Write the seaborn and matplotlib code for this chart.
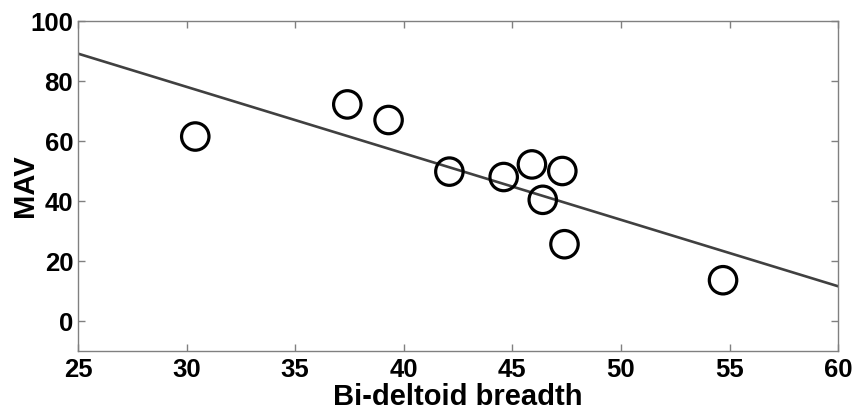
import matplotlib
matplotlib.use('Agg')
import matplotlib.pyplot as plt
import numpy as np
import pandas as pd
import seaborn as sns

# values
breadth = [30.4, 37.4, 39.3, 42.1, 44.6, 45.9, 47.3, 46.4, 47.4, 54.7]
mav = [61.5, 72.2, 67.0, 49.8, 48.0, 52.2, 50.0, 40.4, 25.6, 13.6]
x_ticks = [25, 30, 35, 40, 45, 50, 55, 60]
y_ticks = [0, 20, 40, 60, 80, 100]

sns.set_style('white')
plt.rcParams['font.family'] = ['Liberation Sans', 'DejaVu Sans']
plt.rcParams['font.weight'] = 'bold'
plt.rcParams['text.color'] = 'black'
plt.rcParams['axes.labelcolor'] = 'black'

df = pd.DataFrame({'breadth': breadth, 'mav': mav})

fig = plt.figure(figsize=(8.57, 4.12), dpi=100)
ax = fig.add_axes([0.091, 0.148, 0.887, 0.801])
ax.set_xlim(25, 60)
ax.set_ylim(-10, 100)

# regression line over the whole x range, markers drawn separately
sns.regplot(data=df, x='breadth', y='mav', ax=ax, ci=None, truncate=False,
            scatter=False, line_kws={'color': '#404040', 'linewidth': 1.9})
sns.scatterplot(data=df, x='breadth', y='mav', ax=ax, s=390, marker='o',
                facecolor='none', edgecolor='black', linewidth=2.3, zorder=3)

ax.set_xlim(25, 60)
ax.set_ylim(-10, 100)
ax.set_xticks(x_ticks)
ax.set_yticks(y_ticks)
ax.tick_params(direction='in', length=5, width=1, color='#808080',
               labelcolor='black', labelsize=18.5, top=True, right=True,
               bottom=True, left=True, labeltop=False, labelright=False)
ax.tick_params(axis='y', pad=3.5)
ax.tick_params(axis='x', pad=5)
for lab in ax.get_xticklabels() + ax.get_yticklabels():
    lab.set_fontweight('bold')
for sp in ax.spines.values():
    sp.set_color('#808080')
    sp.set_linewidth(1)

ax.set_xlabel('Bi-deltoid breadth', fontsize=21, fontweight='bold', labelpad=1)
ax.set_ylabel('MAV', fontsize=21, fontweight='bold', labelpad=-6.5)

fig.savefig('out.png', dpi=100)
